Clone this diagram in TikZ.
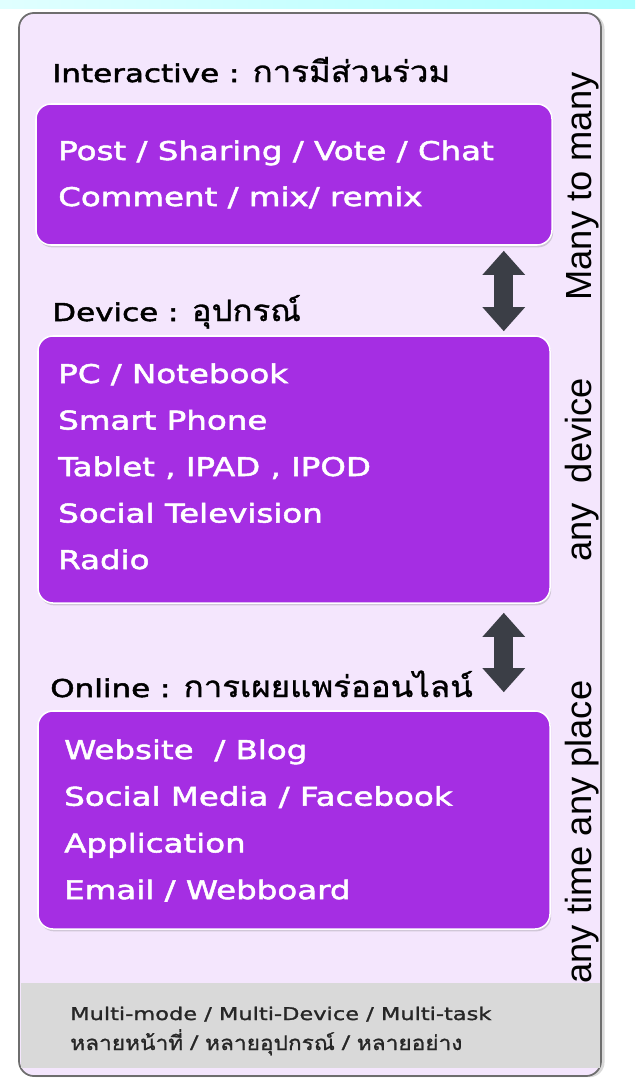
\documentclass[tikz,border=0pt]{standalone}
\usepackage{fontspec}
\setmainfont[FakeStretch=1.26,FakeBold=2]{DejaVu Sans}
\newfontfamily\headfont[FakeStretch=1.26,FakeBold=2]{DejaVu Sans}
\newfontfamily\smallfont[FakeStretch=1.28,FakeBold=1.5]{DejaVu Sans}
\newfontfamily\thaifont[Script=Thai,FakeStretch=1.12,Scale=1.2,FakeBold=1]{Loma}
\newfontfamily\labelfont{Liberation Sans}
\usetikzlibrary{shadows,arrows.meta,calc}

\definecolor{boxpurple}{HTML}{A52EE3}
\definecolor{lavender}{HTML}{F4E6FD}
\definecolor{bandgray}{HTML}{D9D9D9}
\definecolor{arrowgray}{HTML}{3B3E46}
\definecolor{framegray}{HTML}{6E6E6E}

\begin{document}
\begin{tikzpicture}[x=0.03cm,y=-0.03cm,
  frame/.style={draw=framegray,line width=1.5pt,fill=lavender,rounded corners=0.45cm,
    minimum width=17.46cm,minimum height=31.89cm,inner sep=0pt,
    drop shadow={opacity=0.3,shadow xshift=3pt,shadow yshift=-1pt}},
  panel/.style={draw=white,line width=1.3pt,fill=boxpurple,rounded corners=0.45cm,inner sep=0pt,
    drop shadow={opacity=0.3,shadow xshift=1pt,shadow yshift=-2pt}},
  head/.style={anchor=base west,inner sep=0pt,font=\headfont\fontsize{21}{25}\selectfont},
  item/.style={anchor=base west,inner sep=0pt,text=white,font=\fontsize{22}{26}\selectfont},
  small/.style={anchor=base west,inner sep=0pt,text=black!85,font=\smallfont\fontsize{15}{18}\selectfont},
  side/.style={rotate=90,anchor=base,inner sep=0pt,font=\labelfont\fontsize{31}{36}\selectfont},
  updown/.style={draw=arrowgray,line width=0.57cm,
    {Triangle[length=0.72cm,width=1.23cm]}-{Triangle[length=0.72cm,width=1.23cm]}}]
\useasboundingbox (0,0) rectangle (635,1081);
\fill[left color=cyan!12,right color=cyan!32] (0,0) rectangle (635,8);

\node[frame] (frame) at (310,544.5) {};
\fill[bandgray] (20.5,983) rectangle (599.5,1068);

\node[panel,minimum width=15.48cm,minimum height=4.23cm] (ibox) at (294,174.5) {};
\node[panel,minimum width=15.36cm,minimum height=8.01cm] (dbox) at (294,469.5) {};
\node[panel,minimum width=15.36cm,minimum height=6.54cm] (obox) at (294,820) {};

\node[head] (ihead) at (52,82) {Interactive : {\thaifont การมีส่วนร่วม}};
\node[head] (dhead) at (52,321) {Device : {\thaifont อุปกรณ์}};
\node[head] (ohead) at (50,697) {Online : {\thaifont การเผยแพร่ออนไลน์}};

\foreach \t [count=\i] in {Post / Sharing / Vote / Chat, Comment / mix/ remix}
  \node[item] (iitem\i) at (58,160+46*\i-46) {\t};
\foreach \t [count=\i] in {PC / Notebook, Smart Phone, {Tablet , IPAD , IPOD}, Social Television, Radio}
  \node[item] (ditem\i) at (58,383+46.5*\i-46.5) {\t};
\foreach \t [count=\i] in {Website \ / Blog, Social Media / Facebook, Application, Email / Webboard}
  \node[item] (oitem\i) at (64,759+46.7*\i-46.7) {\t};

\draw[updown] ($(ibox.south east)+(-49,5)$) -- ($(dbox.north east)+(-47,-4)$);
\draw[updown] ($(dbox.south east)+(-47,9)$) -- ($(obox.north east)+(-47,-18)$);

\node[side] (many) at (591,186.5) {Many to many};
\node[side] (anydev) at (591,470) {any \ device};
\node[side] (anytime) at (591,832) {any time any place};

\node[small] (mline) at (70,1020) {Multi-mode / Multi-Device / Multi-task};
\node[small] (tline) at (70,1050) {\thaifont\fontsize{14.4}{17}\selectfont หลายหน้าที่ / หลายอุปกรณ์ / หลายอย่าง};
\end{tikzpicture}
\end{document}
